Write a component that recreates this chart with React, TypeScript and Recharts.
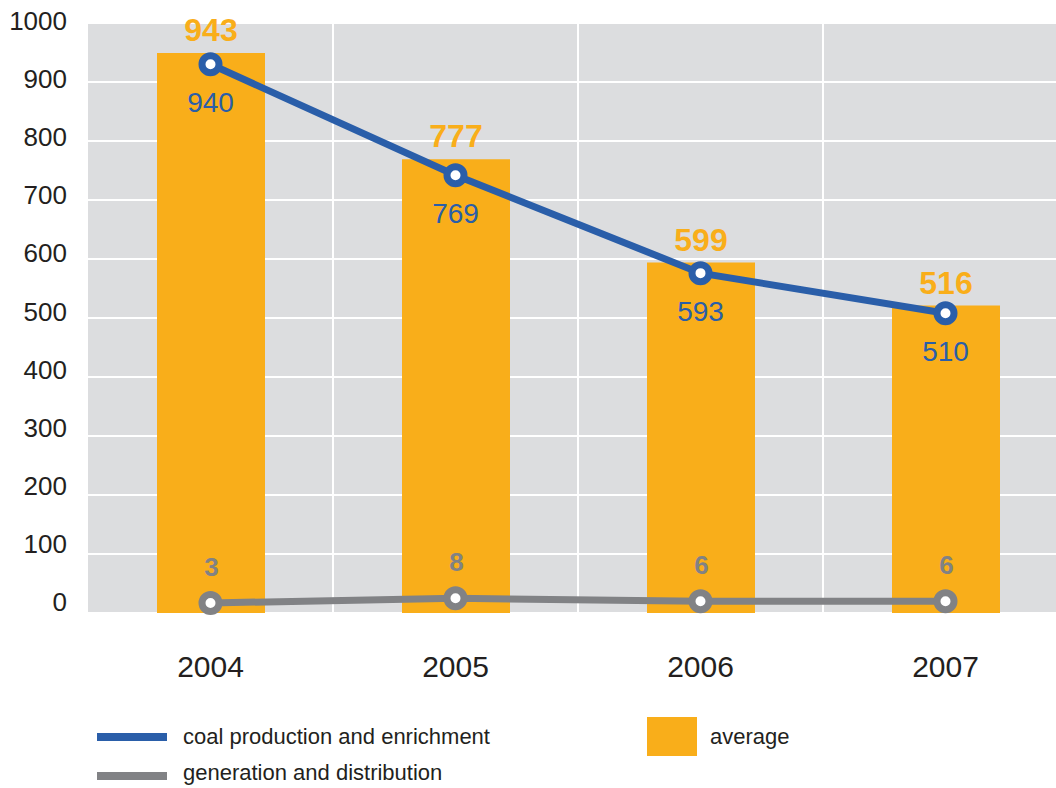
import React from 'react';
import {
  ComposedChart,
  Bar,
  Line,
  XAxis,
  YAxis,
  CartesianGrid,
  LabelList
} from 'recharts';

const years = ['2004', '2005', '2006', '2007'];
// heights as drawn in the picture, and the numbers printed next to them
const averageValues = [949, 769, 594, 521];
const averageLabels = ['943', '777', '599', '516'];
const coalValues = [930, 742, 576, 508];
const coalLabels = ['940', '769', '593', '510'];
const generationValues = [17, 25, 20, 20];
const generationLabels = ['3', '8', '6', '6'];
const yTicks = [0, 100, 200, 300, 400, 500, 600, 700, 800, 900, 1000];
const seriesNames = ['coal production and enrichment', 'generation and distribution', 'average'];

const ORANGE = '#f9ae1a';
const BLUE = '#2a5ea9';
const GRAY = '#818285';
const TEXT = '#231f20';
const FONT = '"Liberation Sans", Arial, Helvetica, sans-serif';

const data = years.map((year, i) => ({
  year,
  average: averageValues[i],
  averageLabel: averageLabels[i],
  coal: coalValues[i],
  coalLabel: coalLabels[i],
  generation: generationValues[i],
  generationLabel: generationLabels[i]
}));

// tick labels sit a little above their gridlines, more so near the bottom
const YTick = ({ x, y, payload }: any) => (
  <text
    x={x - 21}
    y={y - 2 - 9 * (1 - payload.value / 1000)}
    textAnchor="end"
    dominantBaseline="central"
    fontSize={26}
    fontFamily={FONT}
    fill={TEXT}
  >
    {payload.value}
  </text>
);

const XTick = ({ x, y, payload }: any) => (
  <text
    x={x}
    y={y + 53}
    textAnchor="middle"
    dominantBaseline="central"
    fontSize={30}
    fontFamily={FONT}
    fill={TEXT}
  >
    {payload.value}
  </text>
);

const barLabel = (props: any) => {
  const { x, y, width, value } = props;
  return (
    <text
      x={x + width / 2}
      y={y - 23}
      textAnchor="middle"
      dominantBaseline="central"
      fontSize={32}
      fontWeight="bold"
      fontFamily={FONT}
      fill={ORANGE}
    >
      {value}
    </text>
  );
};

const coalLabel = (props: any) => (
  <text
    x={props.x}
    y={props.y + 38}
    textAnchor="middle"
    dominantBaseline="central"
    fontSize={28}
    fontFamily={FONT}
    fill={BLUE}
  >
    {props.value}
  </text>
);

const generationLabel = (props: any) => (
  <text
    x={props.x + 1}
    y={props.y - 36}
    textAnchor="middle"
    dominantBaseline="central"
    fontSize={26}
    fontWeight="bold"
    fontFamily={FONT}
    fill={GRAY}
  >
    {props.value}
  </text>
);

const legendText: React.CSSProperties = {
  position: 'absolute',
  fontFamily: FONT,
  fontSize: 22,
  color: TEXT,
  lineHeight: '24px',
  whiteSpace: 'nowrap'
};

export default function App() {
  return (
    <div style={{ position: 'absolute', left: 0, top: 0, width: 1056, height: 788, overflow: 'hidden', background: '#fff' }}>
      <ComposedChart
        width={1070}
        height={788}
        data={data}
        margin={{ top: 23, right: 2, bottom: 115, left: 0 }}
        barCategoryGap={0}
      >
        <CartesianGrid
          fill="#dcdddf"
          fillOpacity={1}
          stroke="#ffffff"
          strokeWidth={2}
          verticalCoordinatesGenerator={({ offset }: any) =>
            [1, 2, 3].map((i) => offset.left + (i * offset.width) / years.length)
          }
        />
        <XAxis
          dataKey="year"
          axisLine={false}
          tickLine={false}
          tickSize={0}
          tickMargin={0}
          height={60}
          tick={<XTick />}
          interval={0}
        />
        <YAxis
          domain={[0, 1000]}
          ticks={yTicks}
          axisLine={false}
          tickLine={false}
          tickSize={0}
          tickMargin={0}
          width={88}
          tick={<YTick />}
          interval={0}
        />
        <Bar dataKey="average" fill={ORANGE} barSize={108} isAnimationActive={false}>
          <LabelList dataKey="averageLabel" content={barLabel} />
        </Bar>
        <Line
          type="linear"
          dataKey="coal"
          stroke={BLUE}
          strokeWidth={7}
          dot={{ r: 8.5, strokeWidth: 7, fill: '#ffffff', stroke: BLUE }}
          activeDot={false}
          isAnimationActive={false}
        >
          <LabelList dataKey="coalLabel" content={coalLabel} />
        </Line>
        <Line
          type="linear"
          dataKey="generation"
          stroke={GRAY}
          strokeWidth={7}
          dot={{ r: 8.5, strokeWidth: 7, fill: '#ffffff', stroke: GRAY }}
          activeDot={false}
          isAnimationActive={false}
        >
          <LabelList dataKey="generationLabel" content={generationLabel} />
        </Line>
      </ComposedChart>

      <div style={{ position: 'absolute', left: 97, top: 733, width: 70, height: 8, background: BLUE }} />
      <div style={{ ...legendText, left: 183, top: 725 }}>{seriesNames[0]}</div>
      <div style={{ position: 'absolute', left: 97, top: 772, width: 70, height: 8, background: GRAY }} />
      <div style={{ ...legendText, left: 183, top: 761 }}>{seriesNames[1]}</div>
      <div style={{ position: 'absolute', left: 647, top: 717, width: 50, height: 39, background: ORANGE }} />
      <div style={{ ...legendText, left: 710, top: 725 }}>{seriesNames[2]}</div>
    </div>
  );
}
